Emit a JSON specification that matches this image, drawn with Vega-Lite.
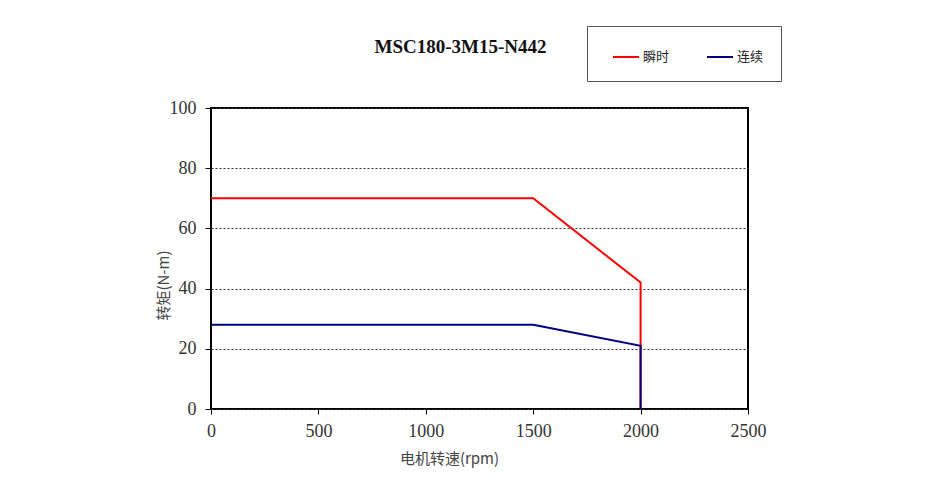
{
  "$schema": "https://vega.github.io/schema/vega-lite/v6.json",
  "width": 537,
  "height": 301,
  "autosize": {"type": "none"},
  "padding": {"left": 211, "top": 108, "right": 183, "bottom": 73},
  "background": "white",
  "title": {
    "text": "MSC180-3M15-N442",
    "font": "Liberation Serif",
    "fontWeight": "bold",
    "fontSize": 19,
    "color": "#111",
    "anchor": "middle",
    "frame": "group",
    "dx": -19,
    "offset": -31
  },
  "data": {
    "values": [
      {"rpm": 0, "torque": 70, "series": "瞬时", "seq": 1},
      {"rpm": 1500, "torque": 70, "series": "瞬时", "seq": 2},
      {"rpm": 2000, "torque": 42, "series": "瞬时", "seq": 3},
      {"rpm": 2000, "torque": 0, "series": "瞬时", "seq": 4},
      {"rpm": 0, "torque": 28, "series": "连续", "seq": 1},
      {"rpm": 1500, "torque": 28, "series": "连续", "seq": 2},
      {"rpm": 2000, "torque": 21, "series": "连续", "seq": 3},
      {"rpm": 2000, "torque": 0, "series": "连续", "seq": 4}
    ]
  },
  "mark": {"type": "line", "strokeWidth": 2},
  "encoding": {
    "x": {
      "field": "rpm",
      "type": "quantitative",
      "scale": {"domain": [0, 2500], "nice": false},
      "axis": {
        "values": [0, 500, 1000, 1500, 2000, 2500],
        "format": "d",
        "title": "电机转速(rpm)",
        "titleFont": "Noto Sans CJK SC",
        "titleFontWeight": "normal",
        "titleFontSize": 15,
        "titleColor": "#444",
        "titleAnchor": "start",
        "titleAlign": "center",
        "titleX": 238,
        "titleY": 49,
        "titleBaseline": "middle",
        "labelFont": "Liberation Serif",
        "labelFontSize": 18,
        "labelColor": "#333",
        "labelPadding": 8,
        "labelFlush": false,
        "grid": false,
        "domain": false,
        "tickColor": "#000",
        "tickSize": 5
      }
    },
    "y": {
      "field": "torque",
      "type": "quantitative",
      "scale": {"domain": [0, 100], "nice": false},
      "axis": {
        "values": [0, 20, 40, 60, 80, 100],
        "title": "转矩(N-m)",
        "titleFont": "Noto Sans CJK SC",
        "titleFontWeight": "normal",
        "titleFontSize": 15,
        "titleColor": "#444",
        "titleAnchor": "start",
        "titleAlign": "center",
        "titleX": -48,
        "titleY": 177,
        "titleBaseline": "middle",
        "titleAngle": -90,
        "labelFont": "Liberation Serif",
        "labelFontSize": 18,
        "labelColor": "#333",
        "labelPadding": 9,
        "labelFlush": false,
        "grid": true,
        "gridColor": "#333",
        "gridDash": [2, 2],
        "gridWidth": 1,
        "domain": false,
        "tickColor": "#000",
        "tickSize": 6
      }
    },
    "color": {
      "field": "series",
      "type": "nominal",
      "scale": {"domain": ["瞬时", "连续"], "range": ["#FF0000", "#000080"]},
      "legend": {
        "title": null,
        "orient": "none",
        "legendX": 376,
        "legendY": -82,
        "direction": "horizontal",
        "strokeColor": "#555",
        "fillColor": "white",
        "padding": 17,
        "symbolOffset": 8,
        "symbolType": "stroke",
        "symbolSize": 676,
        "symbolStrokeWidth": 2,
        "labelFont": "Noto Sans CJK SC",
        "labelFontSize": 13,
        "labelColor": "#222",
        "labelOffset": 3,
        "columnPadding": 28
      }
    },
    "order": {"field": "seq", "type": "quantitative"}
  },
  "config": {
    "view": {"stroke": "#000", "strokeWidth": 2}
  }
}
